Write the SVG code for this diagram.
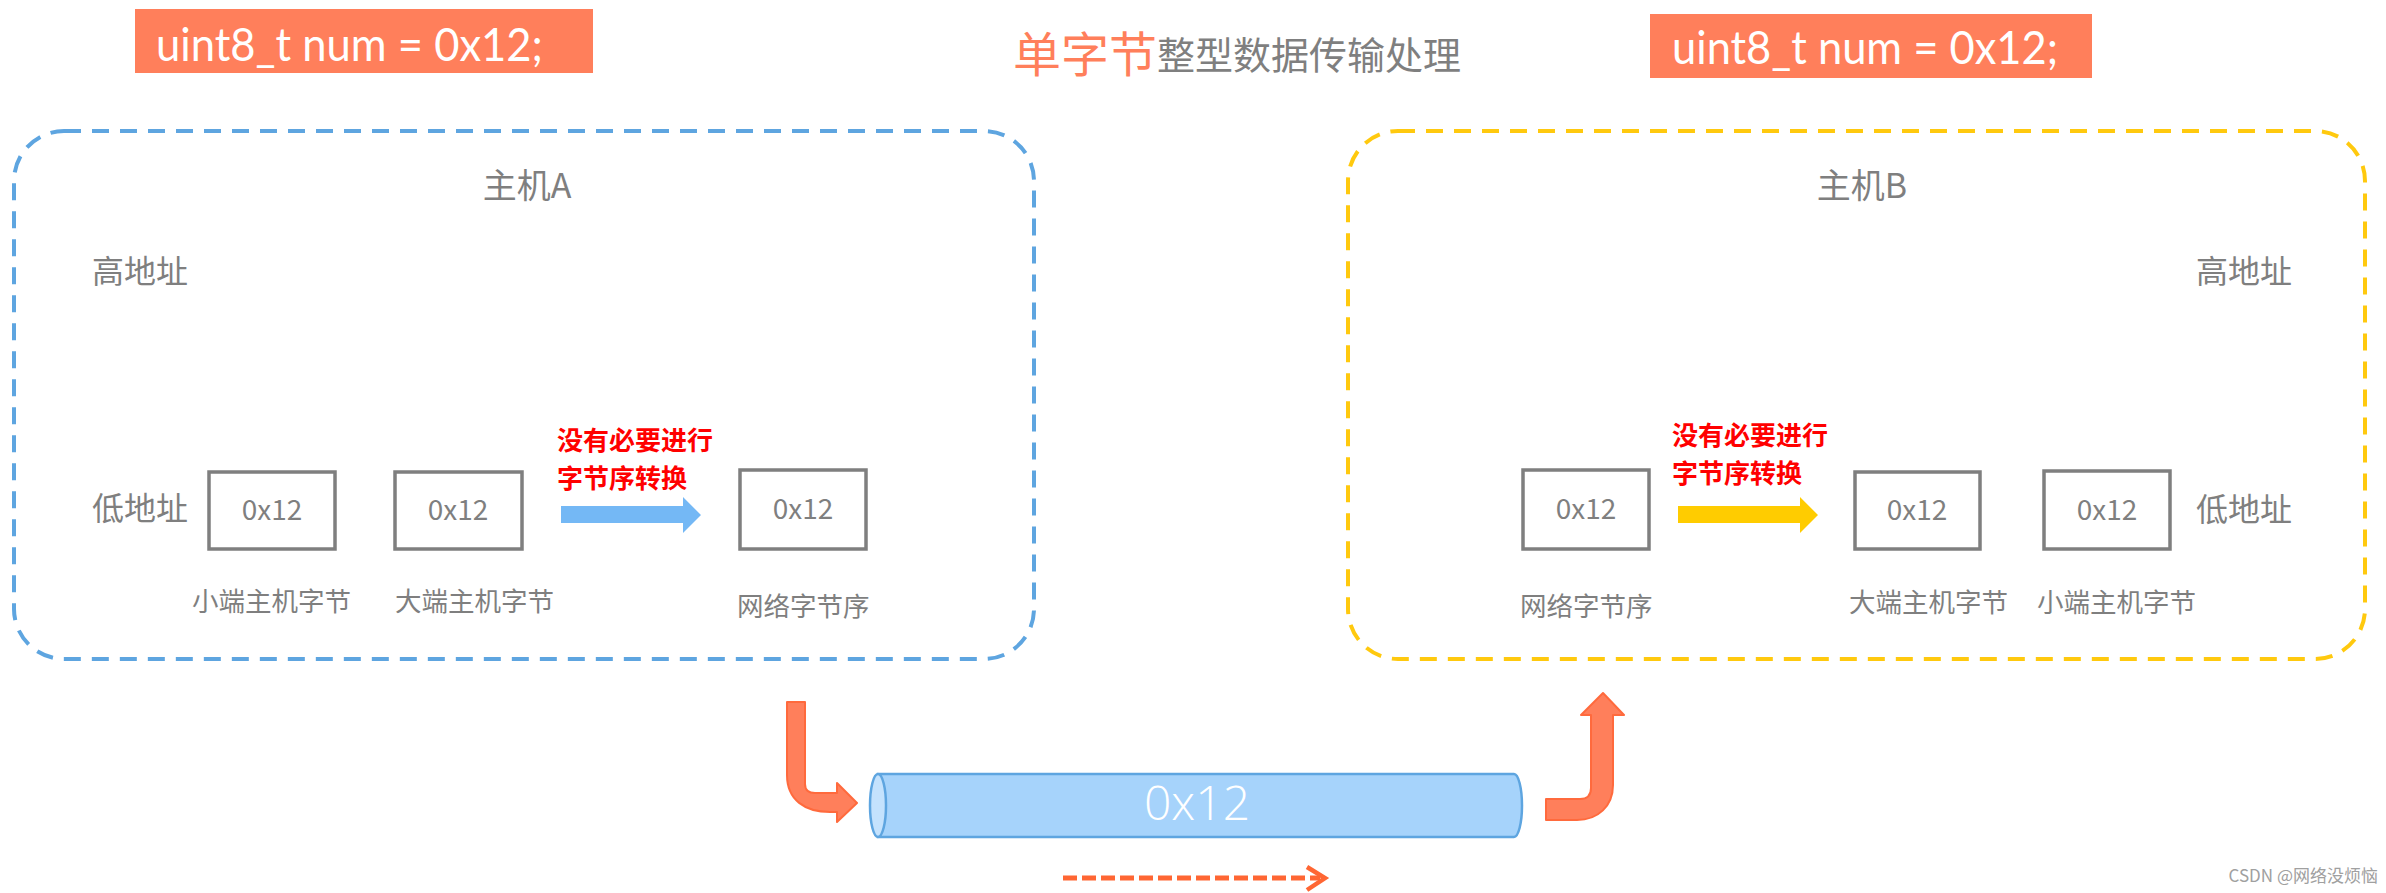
<svg xmlns="http://www.w3.org/2000/svg" width="2386" height="893" viewBox="0 0 2386 893">
<style>
.cjk{font-family:"Noto Sans CJK SC","Noto Sans",sans-serif;}
.gray{fill:#7F7F7F;}
.lbl{font-size:26.5px;}
.addr{font-size:32px;}
.host{font-size:34px;text-anchor:middle;}
.red{fill:#FF0000;font-size:26px;font-weight:bold;}
.cell{fill:#FFFFFF;stroke:#7F7F7F;stroke-width:3.5;}
.val{font-size:28px;text-anchor:middle;}
.code{font-family:Lato,"Liberation Sans",sans-serif;font-size:46px;fill:#FFFFFF;}
.codebox{fill:#FF7F5B;}
.orangeArrow{fill:#FF7F5B;stroke:#FF6A3D;stroke-width:2;stroke-linejoin:round;}
</style>
<rect width="2386" height="893" fill="#FFFFFF"/>

<g id="code-left">
<rect class="codebox" x="135" y="9" width="458" height="64"/>
<text class="code" x="156" y="61" textLength="387" lengthAdjust="spacingAndGlyphs">uint8_t num = 0x12;</text>
</g>
<g id="code-right">
<rect class="codebox" x="1650" y="14" width="442" height="64"/>
<text class="code" x="1672" y="64" textLength="386" lengthAdjust="spacingAndGlyphs">uint8_t num = 0x12;</text>
</g>

<g id="title">
<text class="cjk" x="1013" y="72" font-size="48" fill="#FF7F5B">单字节</text>
<text class="cjk gray" x="1157" y="69" font-size="38">整型数据传输处理</text>
</g>

<g id="hostA">
<rect x="14" y="131" width="1020" height="528" rx="50" ry="50" fill="none" stroke="#5EA5E0" stroke-width="4" stroke-dasharray="17 11"/>
<text class="cjk gray host" x="527" y="198">主机A</text>
<text class="cjk gray addr" x="92" y="283">高地址</text>
<text class="cjk gray addr" x="92" y="520">低地址</text>
</g>
<g id="A-little">
<rect class="cell" x="209" y="472" width="126" height="77"/>
<text class="cjk gray val" x="272" y="520">0x12</text>
<text class="cjk gray lbl" x="192" y="611">小端主机字节</text>
</g>
<g id="A-big">
<rect class="cell" x="395" y="472" width="127" height="77"/>
<text class="cjk gray val" x="458" y="520">0x12</text>
<text class="cjk gray lbl" x="395" y="611">大端主机字节</text>
</g>
<g id="A-net">
<rect class="cell" x="740" y="470" width="126" height="79"/>
<text class="cjk gray val" x="803" y="519">0x12</text>
<text class="cjk gray lbl" x="737" y="616">网络字节序</text>
</g>
<g id="A-note">
<text class="cjk red" x="557" y="450">没有必要进行</text>
<text class="cjk red" x="557" y="488">字节序转换</text>
</g>

<g id="hostB">
<rect x="1348" y="131" width="1017" height="528" rx="50" ry="50" fill="none" stroke="#FFC90E" stroke-width="4" stroke-dasharray="17 11"/>
<text class="cjk gray host" x="1862" y="198">主机B</text>
<text class="cjk gray addr" x="2196" y="283">高地址</text>
<text class="cjk gray addr" x="2196" y="521">低地址</text>
</g>
<g id="B-net">
<rect class="cell" x="1523" y="470" width="126" height="79"/>
<text class="cjk gray val" x="1586" y="519">0x12</text>
<text class="cjk gray lbl" x="1520" y="616">网络字节序</text>
</g>
<g id="B-big">
<rect class="cell" x="1855" y="472" width="125" height="77"/>
<text class="cjk gray val" x="1917" y="520">0x12</text>
<text class="cjk gray lbl" x="1849" y="612">大端主机字节</text>
</g>
<g id="B-little">
<rect class="cell" x="2044" y="471" width="126" height="78"/>
<text class="cjk gray val" x="2107" y="520">0x12</text>
<text class="cjk gray lbl" x="2037" y="612">小端主机字节</text>
</g>
<g id="B-note">
<text class="cjk red" x="1672" y="445">没有必要进行</text>
<text class="cjk red" x="1672" y="483">字节序转换</text>
</g>

<g id="channel">
<path d="M878,774 L1514,774 A8,31.5 0 0 1 1514,837 L878,837 Z" fill="#A6D3FB" stroke="#5EA5E0" stroke-width="2.5"/>
<ellipse cx="878" cy="805.5" rx="8" ry="31.5" fill="#C4E2FD" stroke="#5EA5E0" stroke-width="2.5"/>
<text x="1197" y="820" font-family="'Open Sans','Noto Sans',sans-serif" font-weight="300" font-size="48" fill="#FFFFFF" text-anchor="middle">0x12</text>
</g>

<g id="connectors">
<path d="M561,506 L683,506 L683,497 L701,515 L683,533 L683,523 L561,523 Z" fill="#74B8F5"/>
<path d="M1678,506 L1800,506 L1800,497 L1818,515 L1800,533 L1800,523 L1678,523 Z" fill="#FFCC00"/>
<path class="orangeArrow" d="M787,702 L805,702 L805,784 Q805,793 815,793 L837,793 L837,783 L857,803 L837,822 L837,812 L830,812 C805,812 787,800 787,775 Z"/>
<path class="orangeArrow" d="M1546,799 L1580,799 Q1591,799 1591,788 L1591,715 L1581,715 L1603,693 L1624,715 L1613,715 L1613,785 C1613,806 1598,820 1577,820 L1546,820 Z"/>
<line x1="1063" y1="878" x2="1320" y2="878" stroke="#FF6633" stroke-width="5" stroke-dasharray="14 5"/>
<polyline points="1307,867 1325,878 1307,890" fill="none" stroke="#FF6633" stroke-width="4.5"/>
</g>

<g id="watermark">
<text class="cjk" x="2378" y="882" font-size="17" fill="#A0A0A0" text-anchor="end">CSDN @网络没烦恼</text>
</g>
</svg>
